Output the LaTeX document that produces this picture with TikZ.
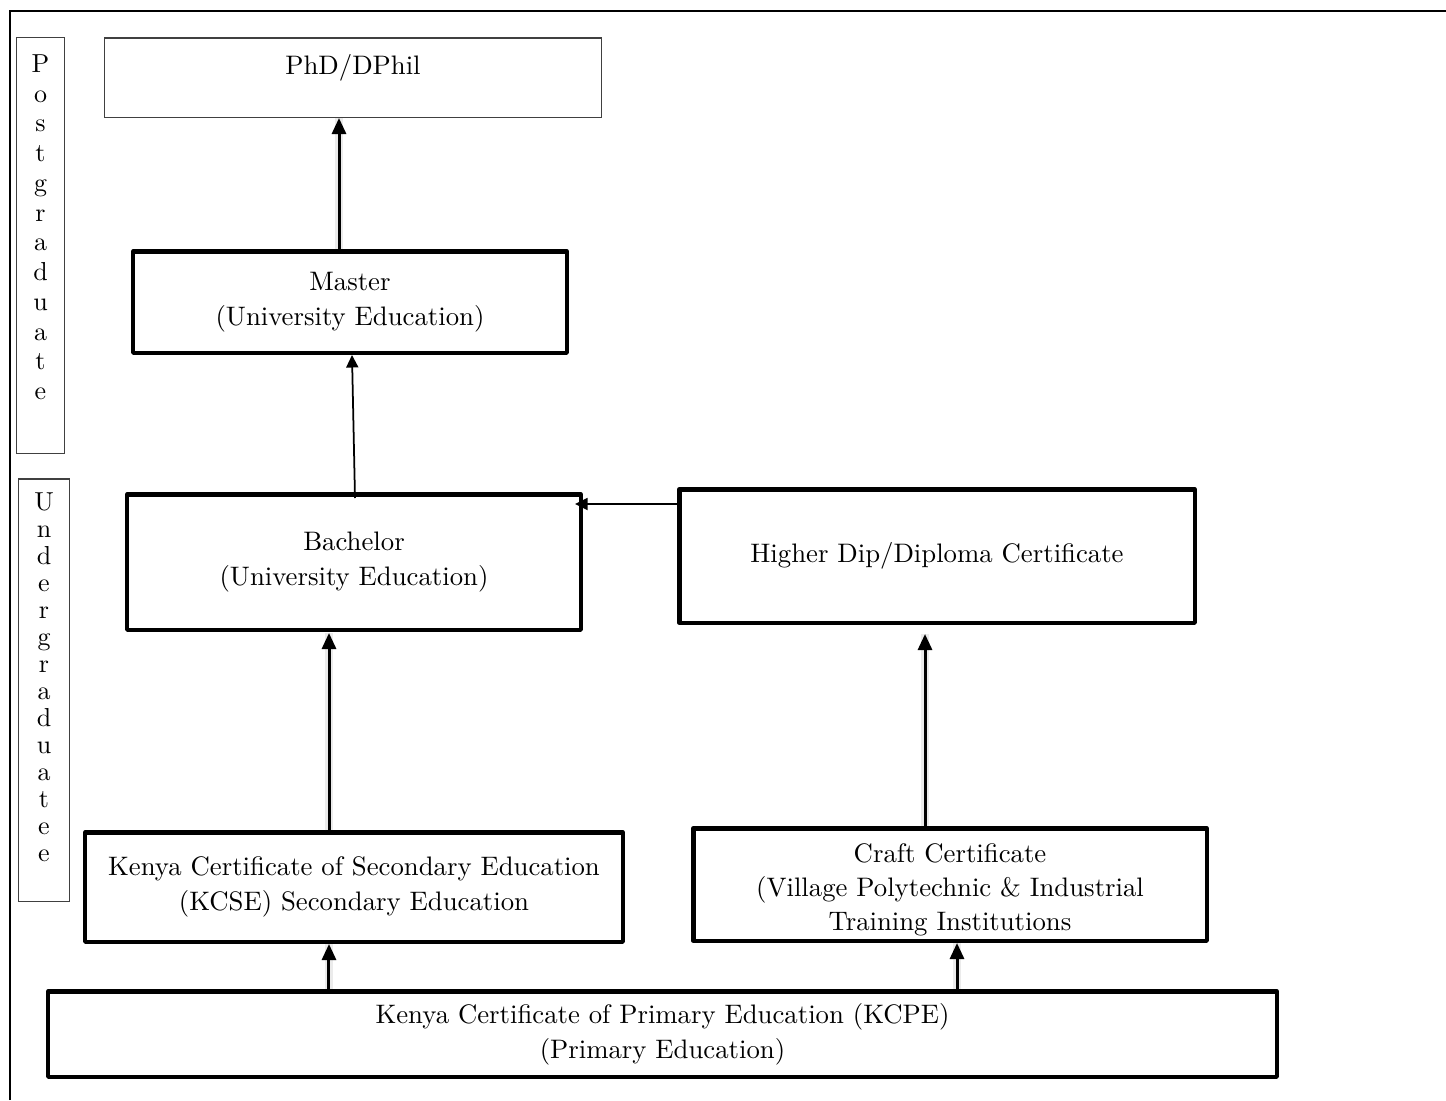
\documentclass[tikz,border=0pt]{standalone}
\usepackage{tikz}
\usetikzlibrary{arrows.meta, positioning}
\definecolor{boxGray}{gray}{0.25}
\definecolor{shadeGray}{gray}{0.92}

\begin{document}
\begin{tikzpicture}[x=0.4pt, y=-0.4pt,
    every node/.style={font=\fontsize{10.7}{14}\selectfont, align=center},
    thinbox/.style={draw=boxGray, line width=0.6pt},
    thickbox/.style={draw, line width=1.8pt, line join=round},
    letters/.style={inner sep=0pt, font=\fontsize{10.4}{11.9}\selectfont},
    bigarrow/.style={line width=1.2pt, -{Triangle[length=6.4pt, width=5.6pt]},
        preaction={draw=shadeGray, line width=3.4pt, -}},
    thinarrow/.style={line width=0.7pt, -{Triangle[length=5pt, width=4.8pt]}}]

    \useasboundingbox (0,0) rectangle (1446,1100);
    \draw[line width=1pt] (10,1100) -- (10,11) -- (1446,11);

    % side bands
    \node[thinbox, minimum width=19pt, minimum height=166.2pt] (post) at (40.5,245.5) {};
    \node[letters, below=6.8pt of post.north] (postText)
        {P\\o\\s\\t\\g\\r\\a\\d\\u\\a\\t\\e};
    \node[thinbox, minimum width=20.2pt, minimum height=169pt] (under) at (44,690) {};
    \node[letters, font=\fontsize{10.4}{10.8}\selectfont, below=5.6pt of under.north] (underText)
        {U\\n\\d\\e\\r\\g\\r\\a\\d\\u\\a\\t\\e\\e};

    % levels
    \node[thinbox, minimum width=198.6pt, minimum height=31.8pt] (phd) at (353,77.5) {};
    \node[inner sep=0pt, below=6.8pt of phd.north] (phdText) {PhD/DPhil};
    \node[thickbox, minimum width=173.4pt, minimum height=40.6pt] (master) at (350,302)
        {Master\\(University Education)};
    \node[thickbox, minimum width=181.4pt, minimum height=54.2pt] (bach) at (354,562)
        {Bachelor\\(University Education)};
    \node[thickbox, minimum width=206.2pt, minimum height=53.4pt] (higher) at (937,556)
        {Higher Dip/Diploma Certificate};
    \node[thickbox, minimum width=215pt, minimum height=43.8pt] (kcse) at (354,887)
        {Kenya Certificate of Secondary Education\\(KCSE) Secondary Education};
    \node[thickbox, minimum width=205.4pt, minimum height=45pt, inner ysep=0pt,
        font=\fontsize{10.7}{13.6}\selectfont] (craft) at (950,884.5)
        {\rule{0pt}{12pt}Craft Certificate\\(Village Polytechnic \& Industrial\\Training Institutions};
    \node[thickbox, minimum width=491.4pt, minimum height=34.2pt] (kcpe) at (662.5,1034)
        {Kenya Certificate of Primary Education (KCPE)\\(Primary Education)};

    % progression
    \draw[bigarrow] ([xshift=-4.4pt]master.north) -- ([xshift=-4.4pt]master.north |- phd.south);
    \draw[thinarrow] ([xshift=0.4pt, yshift=-2.4pt]bach.north) -- ([xshift=0.8pt]master.south);
    \draw[thinarrow, shorten >=-3.2pt] ([yshift=20.8pt]higher.west) -- ([yshift=20.8pt]higher.west -| bach.east);
    \draw[bigarrow, shorten >=0.4pt] ([xshift=-10pt]kcse.north) -- ([xshift=-10pt]kcse.north |- bach.south);
    \draw[bigarrow, shorten >=3.6pt] ([xshift=-10pt]craft.north) -- ([xshift=-10pt]craft.north |- higher.south);
    \draw[bigarrow] ([xshift=-133.4pt]kcpe.north) -- ([xshift=-133.4pt]kcpe.north |- kcse.south);
    \draw[bigarrow] ([xshift=117.8pt]kcpe.north) -- ([xshift=117.8pt]kcpe.north |- craft.south);
\end{tikzpicture}
\end{document}
